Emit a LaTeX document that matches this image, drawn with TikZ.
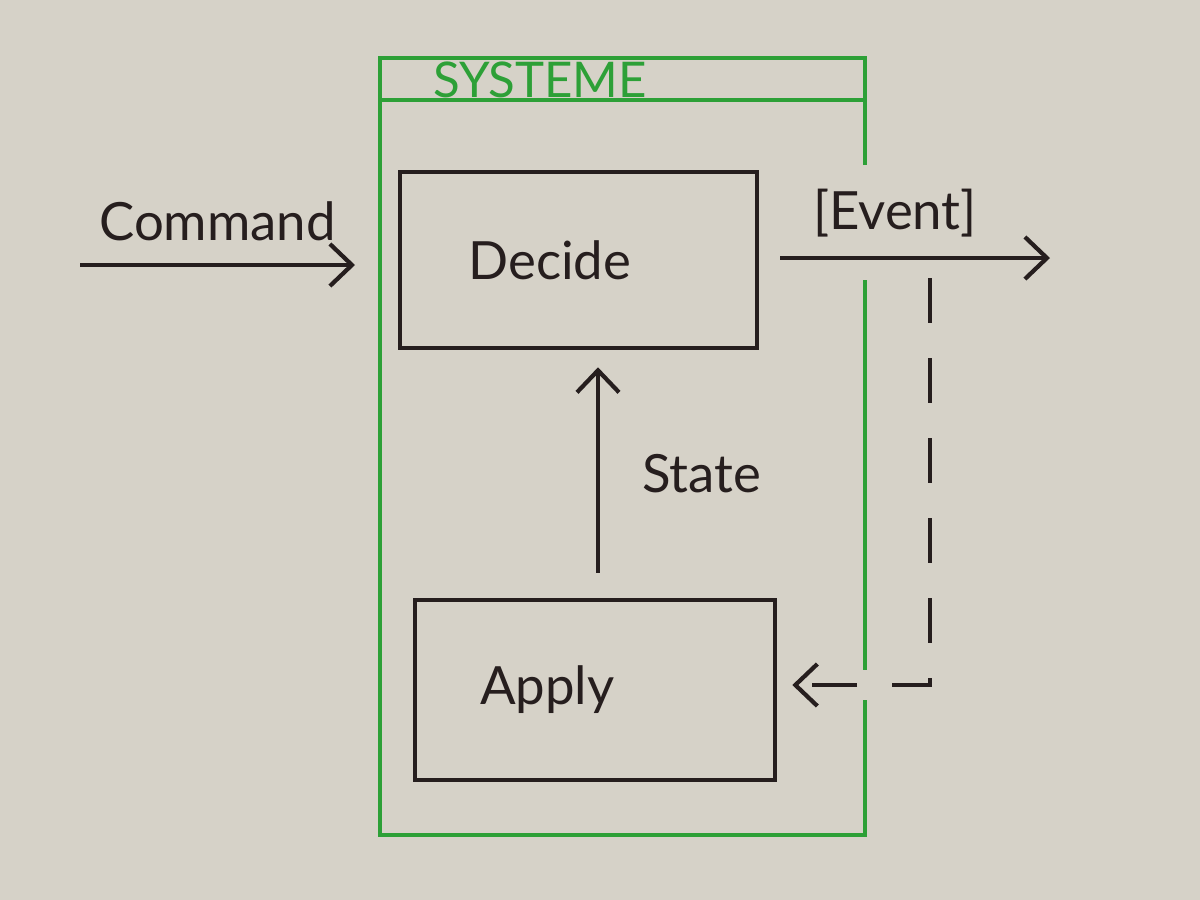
\documentclass[tikz,border=0pt]{standalone}
\usepackage{fontspec}
\setmainfont{Lato}
\usetikzlibrary{positioning,calc,arrows.meta}
\definecolor{paper}{RGB}{214,210,200}
\definecolor{ink}{RGB}{38,30,30}
\definecolor{pen}{RGB}{45,160,55}
\tikzset{
frame/.style={draw=pen,line width=0.9pt},
box/.style={draw=ink,line width=1.3pt,inner sep=0pt},
handtext/.style={text=ink,font=\fontsize{15}{18}\selectfont},
flow/.style={-{Straight Barb[length=2.2mm,width=4.2mm,line width=1.2pt]},ink,line width=1.3pt},
eventflow/.style={flow,dash pattern=on 4.5mm off 3.5mm}
}
\begin{document}
\begin{tikzpicture}[every node/.style={handtext}]
\fill[paper] (0,0) rectangle (12,-9);
\useasboundingbox (0,0) rectangle (12,-9);
% system frame
\coordinate (tl) at (3.8,-0.58);
\coordinate (br) at (8.65,-8.35);
\draw[frame] (8.65,-1.65) |- (tl) |- (br) -- (8.65,-7.0);
\draw[frame] (8.65,-2.8) -- (8.65,-6.7);
\draw[frame] (3.8,-1.0) -- (8.65,-1.0);
\node[text=pen,font=\fontsize{14}{16}\selectfont] (sys) at (5.4,-0.8) {SYSTEME};
% boxes
\node[box,minimum width=3.57cm,minimum height=1.76cm,text width=3.2cm,align=left] (decide) at (5.785,-2.6) {\hspace*{0.5cm}Decide};
\node[box,minimum width=3.6cm,minimum height=1.8cm,text width=3.2cm,align=left] (apply) at (5.95,-6.9) {\hspace*{0.45cm}Apply};
% flows
\coordinate (cmdin) at (0.8,-2.65);
\coordinate (cmdout) at (3.55,-2.65);
\draw[flow] (cmdin) -- (cmdout) node[midway,above=1mm] (cmd) {Command};
\coordinate (evin) at (7.8,-2.58);
\coordinate (evout) at (10.5,-2.58);
\draw[flow] (evin) -- (evout);
\node (ev) at (8.95,-2.13) {[Event]};
\draw[flow,shorten <=2.5mm,shorten >=1.7mm] (apply.north -| 5.98,0) -- (decide.south -| 5.98,0) node[midway,right=3mm] (st) {State};
\coordinate (evtap) at (9.3,-2.78);
\coordinate (evcorner) at (9.3,-6.85);
\draw[eventflow,shorten >=1.5mm] (evtap) -- (evcorner) -- (evcorner -| apply.east);
\end{tikzpicture}
\end{document}
